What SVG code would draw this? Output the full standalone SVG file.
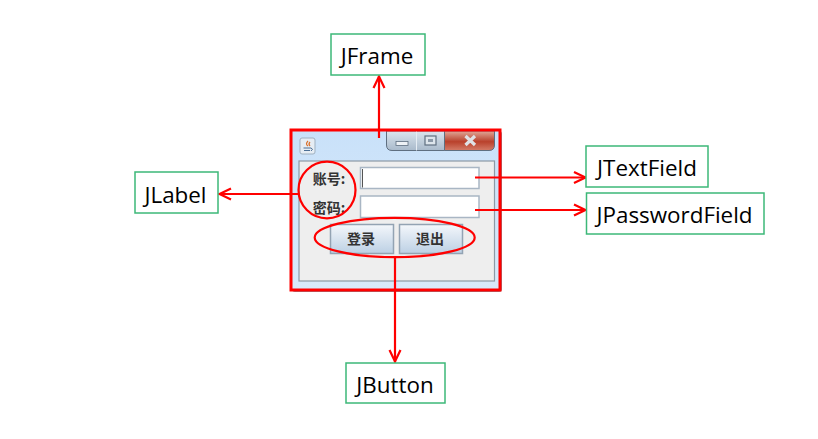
<svg xmlns="http://www.w3.org/2000/svg" width="818" height="439" viewBox="0 0 818 439">
<style>
.box{fill:#fff;stroke:#3cb878;stroke-width:1.5}
.lbl{font-family:"Open Sans","Noto Sans",sans-serif;font-size:22.400px;fill:#000;text-anchor:middle}
.cjk{font-family:"Noto Sans CJK SC",sans-serif;font-size:14px;font-weight:700;fill:#333;text-anchor:middle}
.red{fill:none;stroke:#f00;stroke-width:2.200}
.field{fill:#fff;stroke:#a9b6c4;stroke-width:1.500}
.btn{fill:url(#btn);stroke:#93a3b3;stroke-width:1.500}
</style>
<defs>
<marker id="arr" markerWidth="14" markerHeight="14" refX="13" refY="7" orient="auto" markerUnits="userSpaceOnUse"><path d="M1 1.500 L12.500 7 L1 12.500" fill="none" stroke="#f00" stroke-width="2.200"/></marker>
<linearGradient id="btn" x1="0" y1="0" x2="0" y2="1"><stop offset="0" stop-color="#f4f7fb"/><stop offset="1" stop-color="#bcd0e4"/></linearGradient>
<linearGradient id="title" x1="0" y1="0" x2="0" y2="1"><stop offset="0" stop-color="#c9e1f9"/><stop offset="1" stop-color="#d9eafb"/></linearGradient>
<linearGradient id="ctl" x1="0" y1="0" x2="0" y2="1"><stop offset="0" stop-color="#dbe5ee"/><stop offset="1" stop-color="#a9bacb"/></linearGradient>
<linearGradient id="close" x1="0" y1="0" x2="0" y2="1"><stop offset="0" stop-color="#e0a898"/><stop offset="0.55" stop-color="#b9412c"/><stop offset="1" stop-color="#d47c68"/></linearGradient>
</defs>
<rect width="818" height="439" fill="#fff"/>
<g id="window">
<rect x="292" y="131" width="210" height="161" rx="3" fill="#8a8f96"/>
<rect x="290" y="130" width="210" height="160" rx="3" fill="url(#title)"/>
<rect x="299" y="161" width="195.500" height="120" fill="#eeeeee" stroke="#8c99a6" stroke-width="1.200"/>
<g id="window-controls">
<path d="M386.500 131 H444.500 V150.500 H392 Q386.500 150.500 386.500 145Z" fill="url(#ctl)" stroke="#5f6f80"/>
<path d="M416.500 131 V150.500" stroke="#e6edf4" stroke-width="1"/>
<path d="M444.500 131 H494.500 V145 Q494.500 150.500 489 150.500 H444.500Z" fill="url(#close)" stroke="#5f6f80"/>
<rect x="396" y="141.500" width="12" height="4" fill="#eef2f6" stroke="#5f6f80" stroke-width="0.800"/>
<rect x="425" y="136" width="11" height="9" fill="#dde5ec" stroke="#5f6f80" stroke-width="1.200"/>
<rect x="428" y="139" width="5" height="3" fill="#8b99a8"/>
<path d="M465.500 136 L475 145 M475 136 L465.500 145" stroke="#dfe2e6" stroke-width="3.200"/>
</g>
<g id="java-icon">
<rect x="300" y="138" width="15" height="16" rx="2" fill="#e6edf4" stroke="#9fb0c0"/>
<path d="M308 141 Q305 144 308 146 M310 142 Q308 144 310 146" fill="none" stroke="#d9702a" stroke-width="1.200"/>
<path d="M303.500 148 H311 M304 150.500 H310 M311 148 Q314 149 311 151" fill="none" stroke="#4c6f95" stroke-width="1"/>
</g>
</g>
<g id="label-account"><text class="cjk" x="329" y="184">账号:</text></g>
<g id="label-password"><text class="cjk" x="329" y="213">密码:</text></g>
<g id="text-field"><rect class="field" x="360.500" y="167.500" width="118.500" height="21"/><path d="M362.500 169 V187.500" stroke="#555" stroke-width="1"/></g>
<g id="password-field"><rect class="field" x="360.500" y="196" width="118.500" height="21.500"/></g>
<g id="btn-login"><rect class="btn" x="330.500" y="224.500" width="63" height="29"/><text class="cjk" x="361" y="244">登录</text></g>
<g id="btn-exit"><rect class="btn" x="399.500" y="224.500" width="63" height="29"/><text class="cjk" x="430" y="244">退出</text></g>
<g id="highlights">
<rect x="291" y="130" width="209" height="160" fill="none" stroke="#f00" stroke-width="3"/>
<ellipse class="red" cx="327" cy="190" rx="28.500" ry="28.300"/>
<ellipse class="red" cx="394.700" cy="237.500" rx="80" ry="19.700"/>
</g>
<g id="connectors">
<line class="red" x1="379" y1="138" x2="379" y2="76" marker-end="url(#arr)"/>
<line class="red" x1="298" y1="194" x2="219" y2="194" marker-end="url(#arr)"/>
<line class="red" x1="475" y1="177.500" x2="586" y2="177.500" marker-end="url(#arr)"/>
<line class="red" x1="475" y1="210" x2="586" y2="210" marker-end="url(#arr)"/>
<line class="red" x1="395" y1="258" x2="395" y2="362" marker-end="url(#arr)"/>
</g>
<g id="JFrame"><rect class="box" x="331" y="34" width="94" height="41"/><text class="lbl" x="377" y="64">JFrame</text></g>
<g id="JLabel"><rect class="box" x="135" y="172" width="83" height="41"/><text class="lbl" x="175.500" y="203">JLabel</text></g>
<g id="JTextField"><rect class="box" x="586" y="146" width="122" height="41"/><text class="lbl" x="647" y="176">JTextField</text></g>
<g id="JPasswordField"><rect class="box" x="586.500" y="193" width="177.500" height="41"/><text class="lbl" x="674.500" y="223">JPasswordField</text></g>
<g id="JButton"><rect class="box" x="346" y="363" width="99" height="40"/><text class="lbl" x="395" y="393">JButton</text></g>
</svg>
